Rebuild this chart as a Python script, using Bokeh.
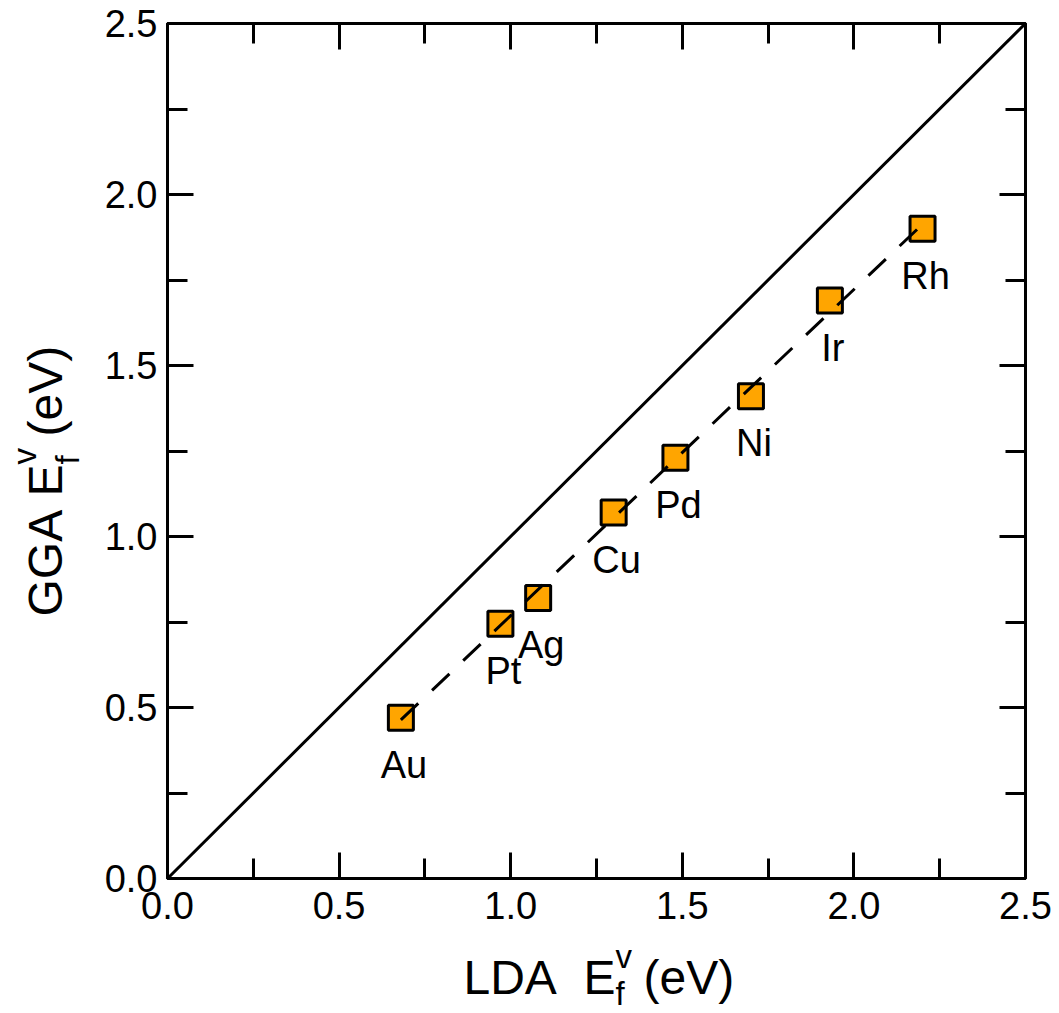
import numpy as np
from bokeh.plotting import figure
from bokeh.layouts import row, column
from bokeh.models import (ColumnDataSource, FixedTicker, LinearAxis, LabelSet,
                          Slope, PrintfTickFormatter, CustomJSTickFormatter)
from bokeh.core.properties import value
from bokeh.embed import file_html
from bokeh.resources import INLINE

# ---- data ----
metals = ["Au", "Pt", "Ag", "Cu", "Pd", "Ni", "Ir", "Rh"]
lda_ef = [0.68, 0.97, 1.08, 1.30, 1.48, 1.70, 1.93, 2.20]
gga_ef = [0.47, 0.745, 0.82, 1.07, 1.23, 1.41, 1.69, 1.90]
major_ticks = [0.0, 0.5, 1.0, 1.5, 2.0, 2.5]
minor_ticks = [0.25, 0.75, 1.25, 1.75, 2.25]
x_range = (0.0, 2.5)
y_range = (0.0, 2.5)
x_title = ["LDA", "E", "v", "f", "(eV)"]
y_title = ["GGA", "E", "v", "f", "(eV)"]

FONT = "Liberation Sans"

# ---- layout sizes (px) ----
YT_W = 90            # strip holding the y title (left)
TOTAL_H = 1012
MAIN_H_BOTTOM = 57
FRAME_W, FRAME_H = 858, 855
BL, BR, BT = 167 - YT_W, 30, 23
MAIN_W = BL + FRAME_W + BR
MAIN_H = BT + FRAME_H + MAIN_H_BOTTOM
XT_H = TOTAL_H - MAIN_H
TOTAL_W = YT_W + MAIN_W

p = figure(frame_width=FRAME_W, frame_height=FRAME_H, x_range=x_range, y_range=y_range,
           output_backend="svg", toolbar_location=None,
           min_border_left=BL, min_border_right=BR, min_border_top=BT,
           min_border_bottom=MAIN_H_BOTTOM, align="start")
p.background_fill_color = "white"
p.border_fill_color = "white"
p.grid.visible = False
p.outline_line_color = "black"
p.outline_line_width = 3

ticker = FixedTicker(ticks=major_ticks, minor_ticks=minor_ticks)

def style_axis(ax, show_labels):
    ax.ticker = ticker
    ax.axis_line_color = "black"
    ax.axis_line_width = 3
    ax.major_tick_line_width = 3
    ax.minor_tick_line_width = 3
    ax.major_tick_in = 26
    ax.major_tick_out = 0
    ax.minor_tick_in = 20
    ax.minor_tick_out = 0
    if show_labels:
        ax.formatter = PrintfTickFormatter(format="%.1f")
        ax.major_label_text_font = FONT
        ax.major_label_text_font_size = "38px"
        ax.major_label_text_color = "black"
    else:
        ax.formatter = CustomJSTickFormatter(code="return ''")
        ax.major_label_text_font_size = "0px"
        ax.major_label_text_color = None
        ax.major_label_standoff = 0

style_axis(p.xaxis[0], True)
style_axis(p.yaxis[0], True)
p.xaxis[0].major_label_standoff = 13
p.yaxis[0].major_label_standoff = 10

top_ax = LinearAxis()
right_ax = LinearAxis()
style_axis(top_ax, False)
style_axis(right_ax, False)
p.add_layout(top_ax, "above")
p.add_layout(right_ax, "right")

# y = x reference line
p.add_layout(Slope(gradient=1, y_intercept=0, line_color="black", line_width=3))

src = ColumnDataSource(dict(x=lda_ef, y=gga_ef, name=metals))
p.scatter("x", "y", source=src, marker="square", size=25,
          fill_color="#FFA500", line_color="black", line_width=3)

# least-squares fit line (dashed), drawn over the data span
b, a = np.polyfit(np.array(lda_ef), np.array(gga_ef), 1)
fx = np.array([min(lda_ef), max(lda_ef)])
p.line(fx, a + b * fx, line_color="black", line_width=3, line_dash="24 19")

p.add_layout(LabelSet(x="x", y="y", text="name", source=src, x_offset=3, y_offset=-60,
                      text_align="center", text_baseline="alphabetic",
                      text_font=value(FONT), text_font_size="38px", text_color="black"))

MAIN = "48px"
SMALL = "33px"
sizes = [MAIN, MAIN, SMALL, SMALL, MAIN]
along = [0, 120, 152, 152, 180]     # start of each piece along the text
x_perp = [0, 0, 26, -11, 0]         # baseline shift (up = positive)
y_perp = [0, 0, 26, -17, 0]

def text_strip(w, h):
    f = figure(frame_width=w, frame_height=h, x_range=(0, w), y_range=(0, h),
               x_axis_type=None, y_axis_type=None, output_backend="svg",
               toolbar_location=None, min_border=0, align="start")
    f.min_border_left = f.min_border_right = f.min_border_top = f.min_border_bottom = 0
    f.outline_line_color = None
    f.background_fill_color = "white"
    f.border_fill_color = "white"
    return f

# ---- y title strip (rotated), left of the main plot ----
yf = text_strip(YT_W, MAIN_H)
ybase = 61
y0 = MAIN_H - 593
ysrc = ColumnDataSource(dict(
    x=[ybase - d for d in y_perp],
    y=[y0 + s for s in along],
    t=y_title, fs=sizes))
yf.add_layout(LabelSet(x="x", y="y", text="t", source=ysrc, angle=np.pi / 2,
                       text_font=value(FONT), text_font_size="fs", text_align="left",
                       text_baseline="alphabetic", text_color="black"))

# ---- x title strip: LDA  E_f^v (eV), full width below ----
xf = text_strip(TOTAL_W, XT_H)
x0 = 463
base = TOTAL_H - 993
xsrc = ColumnDataSource(dict(
    x=[x0 + s for s in along],
    y=[base + d for d in x_perp],
    t=x_title, fs=sizes))
xf.add_layout(LabelSet(x="x", y="y", text="t", source=xsrc, text_font=value(FONT),
                       text_font_size="fs", text_align="left", text_baseline="alphabetic",
                       text_color="black"))

layout = column(row(yf, p, spacing=0, align="start"), xf, spacing=0, align="start")
open("out.html", "w").write(file_html(layout, INLINE))
